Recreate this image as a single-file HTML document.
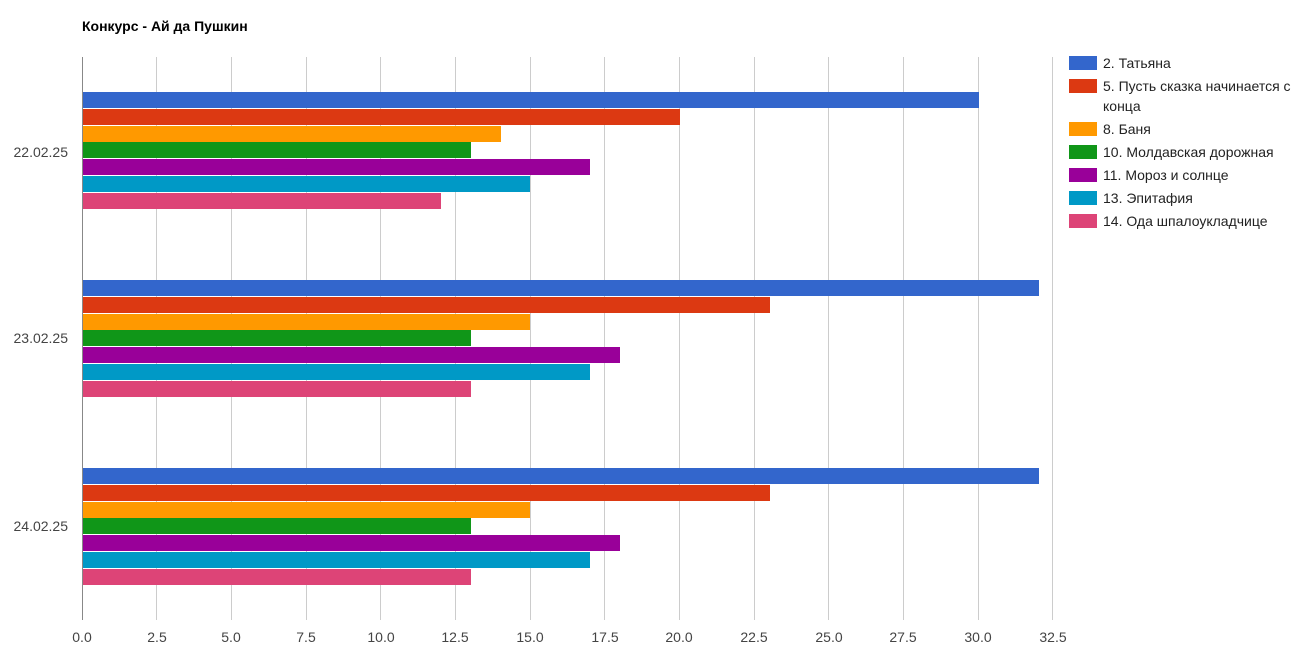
<!DOCTYPE html>
<html><head><meta charset="utf-8"><style>
html,body{margin:0;padding:0;background:#fff;}
svg{display:block;font-family:"Liberation Sans",Arial,sans-serif;}
</style></head><body>
<svg width="1310" height="656" xmlns="http://www.w3.org/2000/svg">
<rect width="1310" height="656" fill="#fff"/>
<text x="82" y="31" font-size="14" font-weight="bold" fill="#000">Конкурс - Ай да Пушкин</text>
<g stroke="#ccc" stroke-width="1">
<line x1="156.5" y1="57" x2="156.5" y2="620"/>
<line x1="231.5" y1="57" x2="231.5" y2="620"/>
<line x1="306.5" y1="57" x2="306.5" y2="620"/>
<line x1="380.5" y1="57" x2="380.5" y2="620"/>
<line x1="455.5" y1="57" x2="455.5" y2="620"/>
<line x1="530.5" y1="57" x2="530.5" y2="620"/>
<line x1="604.5" y1="57" x2="604.5" y2="620"/>
<line x1="679.5" y1="57" x2="679.5" y2="620"/>
<line x1="754.5" y1="57" x2="754.5" y2="620"/>
<line x1="828.5" y1="57" x2="828.5" y2="620"/>
<line x1="903.5" y1="57" x2="903.5" y2="620"/>
<line x1="978.5" y1="57" x2="978.5" y2="620"/>
<line x1="1052.5" y1="57" x2="1052.5" y2="620"/>
</g>
<g>
<rect x="82" y="92" width="897" height="16" fill="#3366cc"/>
<rect x="82" y="109" width="598" height="16" fill="#dc3912"/>
<rect x="82" y="126" width="419" height="16" fill="#ff9900"/>
<rect x="82" y="142" width="389" height="16" fill="#109618"/>
<rect x="82" y="159" width="508" height="16" fill="#990099"/>
<rect x="82" y="176" width="448" height="16" fill="#0099c6"/>
<rect x="82" y="193" width="359" height="16" fill="#dd4477"/>
<rect x="82" y="280" width="957" height="16" fill="#3366cc"/>
<rect x="82" y="297" width="688" height="16" fill="#dc3912"/>
<rect x="82" y="314" width="448" height="16" fill="#ff9900"/>
<rect x="82" y="330" width="389" height="16" fill="#109618"/>
<rect x="82" y="347" width="538" height="16" fill="#990099"/>
<rect x="82" y="364" width="508" height="16" fill="#0099c6"/>
<rect x="82" y="381" width="389" height="16" fill="#dd4477"/>
<rect x="82" y="468" width="957" height="16" fill="#3366cc"/>
<rect x="82" y="485" width="688" height="16" fill="#dc3912"/>
<rect x="82" y="502" width="448" height="16" fill="#ff9900"/>
<rect x="82" y="518" width="389" height="16" fill="#109618"/>
<rect x="82" y="535" width="538" height="16" fill="#990099"/>
<rect x="82" y="552" width="508" height="16" fill="#0099c6"/>
<rect x="82" y="569" width="389" height="16" fill="#dd4477"/>
</g>
<line x1="82.5" y1="57" x2="82.5" y2="620" stroke="#888" stroke-width="1"/>
<g font-size="14" fill="#444" text-anchor="end">
<text x="68" y="157">22.02.25</text>
<text x="68" y="343">23.02.25</text>
<text x="68" y="531">24.02.25</text>
</g>
<g font-size="14" fill="#444" text-anchor="middle">
<text x="82" y="642">0.0</text>
<text x="157" y="642">2.5</text>
<text x="231" y="642">5.0</text>
<text x="306" y="642">7.5</text>
<text x="381" y="642">10.0</text>
<text x="455" y="642">12.5</text>
<text x="530" y="642">15.0</text>
<text x="605" y="642">17.5</text>
<text x="679" y="642">20.0</text>
<text x="754" y="642">22.5</text>
<text x="829" y="642">25.0</text>
<text x="903" y="642">27.5</text>
<text x="978" y="642">30.0</text>
<text x="1053" y="642">32.5</text>
</g>
<g font-size="14" fill="#222">
<rect x="1069" y="56" width="28" height="14" fill="#3366cc"/><text x="1103" y="68">2. Татьяна</text>
<rect x="1069" y="79" width="28" height="14" fill="#dc3912"/><text x="1103" y="91">5. Пусть сказка начинается с</text><text x="1103" y="111">конца</text>
<rect x="1069" y="122" width="28" height="14" fill="#ff9900"/><text x="1103" y="134">8. Баня</text>
<rect x="1069" y="145" width="28" height="14" fill="#109618"/><text x="1103" y="157">10. Молдавская дорожная</text>
<rect x="1069" y="168" width="28" height="14" fill="#990099"/><text x="1103" y="180">11. Мороз и солнце</text>
<rect x="1069" y="191" width="28" height="14" fill="#0099c6"/><text x="1103" y="203">13. Эпитафия</text>
<rect x="1069" y="214" width="28" height="14" fill="#dd4477"/><text x="1103" y="226">14. Ода шпалоукладчице</text>
</g>
</svg>
</body></html>
